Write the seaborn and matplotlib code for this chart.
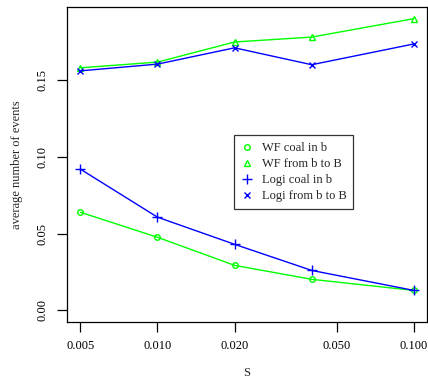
import numpy as np
import pandas as pd
import matplotlib
matplotlib.use("Agg")
import matplotlib.pyplot as plt
import seaborn as sns

s_values = [0.005, 0.01, 0.02, 0.04, 0.1]
wf_coal = [0.0639, 0.0476, 0.0293, 0.0202, 0.0130]
wf_from = [0.1580, 0.1617, 0.1748, 0.1780, 0.1900]
logi_coal = [0.0920, 0.0607, 0.0430, 0.0260, 0.0130]
logi_from = [0.1560, 0.1604, 0.1710, 0.1600, 0.1735]

series = {
    "WF coal in b": (wf_coal, "#00ff00", "o", 4.0),
    "WF from b to B": (wf_from, "#00ff00", "^", 5.0),
    "Logi coal in b": (logi_coal, "#0000ff", "+", 6.5),
    "Logi from b to B": (logi_from, "#0000ff", "x", 4.5),
}

sns.set_style("ticks")
plt.rcParams["font.family"] = ["Liberation Serif", "DejaVu Serif"]

fig = plt.figure(figsize=(4.28, 3.79), dpi=100)
ax = fig.add_axes([67 / 428, 57 / 379, 360 / 428, 315 / 379])

for name, (vals, col, mk, ms) in series.items():
    df = pd.DataFrame({"S": s_values, "v": vals})
    filled = mk in ("+", "x")
    sns.lineplot(data=df, x="S", y="v", ax=ax, color=col, linewidth=1.0,
                 marker=mk, markersize=ms,
                 markerfacecolor=col if filled else "none",
                 markeredgecolor=col, markeredgewidth=1.0, label=name)

ax.set_xscale("log")
lx = np.log10(0.005), np.log10(0.1)
pad = 0.04 * (lx[1] - lx[0])
ax.set_xlim(10 ** (lx[0] - pad), 10 ** (lx[1] + pad))
ax.set_ylim(-0.0076, 0.1976)

xt = [0.005, 0.010, 0.020, 0.050, 0.100]
ax.set_xticks(xt)
ax.set_xticklabels([f"{t:.3f}" for t in xt])
ax.xaxis.set_minor_locator(matplotlib.ticker.NullLocator())
yt = [0.00, 0.05, 0.10, 0.15]
ax.set_yticks(yt)
ax.set_yticklabels([f"{t:.2f}" for t in yt], rotation=90, va="center")

ax.tick_params(direction="out", length=7, width=0.9, labelsize=9, colors="black", pad=6)
ax.tick_params(axis="y", pad=6)
for sp in ax.spines.values():
    sp.set_visible(True)
    sp.set_linewidth(0.9)
    sp.set_color("black")

ax.set_xlabel("S", fontsize=9, labelpad=11)
ax.set_ylabel("average number of events", fontsize=9, labelpad=10)

leg = ax.legend(loc="upper left", bbox_to_anchor=((234 - 67) / 360, (322 - 135) / 315),
                fontsize=9, frameon=True, fancybox=False, edgecolor="black",
                borderpad=0.55, borderaxespad=0, handlelength=0.9,
                handletextpad=0.75, labelspacing=0.32)
leg.get_frame().set_linewidth(0.9)
for h in leg.get_lines():
    h.set_linestyle("none")

fig.savefig("out.png", dpi=100)
